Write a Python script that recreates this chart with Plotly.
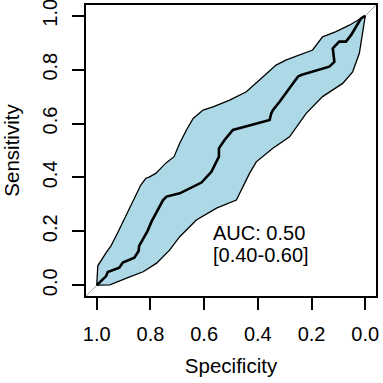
import plotly.graph_objects as go

# ROC curve (specificity, sensitivity)
roc_spec = [1.0, 0.965, 0.959, 0.916, 0.903, 0.860, 0.844, 0.842, 0.811, 0.796, 0.753, 0.740,
            0.691, 0.641, 0.610, 0.573, 0.545, 0.545, 0.524, 0.493, 0.424, 0.356, 0.350, 0.344,
            0.319, 0.251, 0.239, 0.134, 0.115, 0.121, 0.097, 0.072, 0.053, 0.016, 0.0]
roc_sens = [0.0, 0.034, 0.049, 0.065, 0.084, 0.102, 0.127, 0.146, 0.201, 0.236, 0.316, 0.329,
            0.341, 0.366, 0.381, 0.421, 0.477, 0.508, 0.539, 0.576, 0.595, 0.613, 0.638, 0.650,
            0.681, 0.774, 0.780, 0.811, 0.829, 0.879, 0.904, 0.904, 0.928, 0.990, 1.0]

# Confidence band: upper boundary
ci_up_spec = [1.0, 0.996, 0.965, 0.947, 0.922, 0.898, 0.873, 0.854, 0.836, 0.817, 0.805, 0.780,
              0.743, 0.712, 0.691, 0.666, 0.641, 0.604, 0.567, 0.505, 0.443, 0.394, 0.332, 0.294,
              0.245, 0.196, 0.159, 0.109, 0.059, 0.0]
ci_up_sens = [0.0, 0.072, 0.121, 0.146, 0.195, 0.245, 0.294, 0.331, 0.372, 0.397, 0.401, 0.415,
              0.453, 0.477, 0.527, 0.576, 0.619, 0.650, 0.662, 0.687, 0.718, 0.762, 0.817, 0.836,
              0.855, 0.873, 0.922, 0.941, 0.965, 1.0]

# Confidence band: lower boundary
ci_lo_spec = [1.0, 0.951, 0.889, 0.827, 0.777, 0.728, 0.691, 0.629, 0.554, 0.480, 0.456, 0.431,
              0.406, 0.344, 0.282, 0.220, 0.159, 0.084, 0.047, 0.022, 0.0]
ci_lo_sens = [0.0, 0.001, 0.026, 0.050, 0.082, 0.131, 0.180, 0.242, 0.286, 0.316, 0.366, 0.415,
              0.458, 0.508, 0.551, 0.638, 0.700, 0.749, 0.792, 0.861, 1.0]

tick_vals = [1.0, 0.8, 0.6, 0.4, 0.2, 0.0]
tick_text = ["1.0", "0.8", "0.6", "0.4", "0.2", "0.0"]

auc_text = "AUC: 0.50"
ci_text = "[0.40-0.60]"

FONT = "Liberation Sans, Arial, sans-serif"

fig = go.Figure()

# chance diagonal
fig.add_trace(go.Scatter(x=[1.04, -0.04], y=[-0.04, 1.04], mode="lines",
                         line=dict(color="#a0a0a0", width=1), showlegend=False, hoverinfo="skip"))

# band polygon
band_x = ci_up_spec + ci_lo_spec[::-1]
band_y = ci_up_sens + ci_lo_sens[::-1]
fig.add_trace(go.Scatter(x=band_x, y=band_y, mode="lines", fill="toself",
                         fillcolor="#ADD8E6", line=dict(color="black", width=1.3),
                         showlegend=False))

# ROC curve
fig.add_trace(go.Scatter(x=roc_spec, y=roc_sens, mode="lines",
                         line=dict(color="black", width=2.6), showlegend=False))

fig.add_annotation(x=0.573, y=0.194, xref="x", yref="y", text=auc_text, showarrow=False,
                   xanchor="left", yanchor="middle", font=dict(family=FONT, size=20, color="black"))
fig.add_annotation(x=0.573, y=0.112, xref="x", yref="y", text=ci_text, showarrow=False,
                   xanchor="left", yanchor="middle", font=dict(family=FONT, size=20, color="black"))

fig.update_layout(
    width=383, height=383,
    margin=dict(l=86, r=7, t=5, b=87),
    paper_bgcolor="white", plot_bgcolor="white",
    font=dict(family=FONT, size=20, color="black"),
    xaxis=dict(range=[1.04, -0.04], tickvals=tick_vals, ticktext=tick_text,
               showgrid=False, zeroline=False, showline=True, mirror=True, automargin=False,
               linecolor="black", linewidth=2, ticks="outside", ticklen=12, tickwidth=1.5,
               tickcolor="black", ticklabelstandoff=7, ticklabeloverflow="allow",
               title=dict(text="Specificity", standoff=15, font=dict(size=20.5))),
    yaxis=dict(range=[-0.04, 1.04], tickvals=tick_vals, ticktext=tick_text,
               showgrid=False, zeroline=False, showline=True, mirror=True, automargin=False,
               linecolor="black", linewidth=2, ticks="outside", ticklen=12, tickwidth=1.5,
               tickcolor="black", tickangle=-90, ticklabelstandoff=7, ticklabeloverflow="allow",
               title=dict(text="Sensitivity", standoff=17, font=dict(size=20.5))),
)

fig.write_html("out.html", config={"displayModeBar": False},
               post_script="document.body.style.margin='0';document.body.style.overflow='hidden';")
